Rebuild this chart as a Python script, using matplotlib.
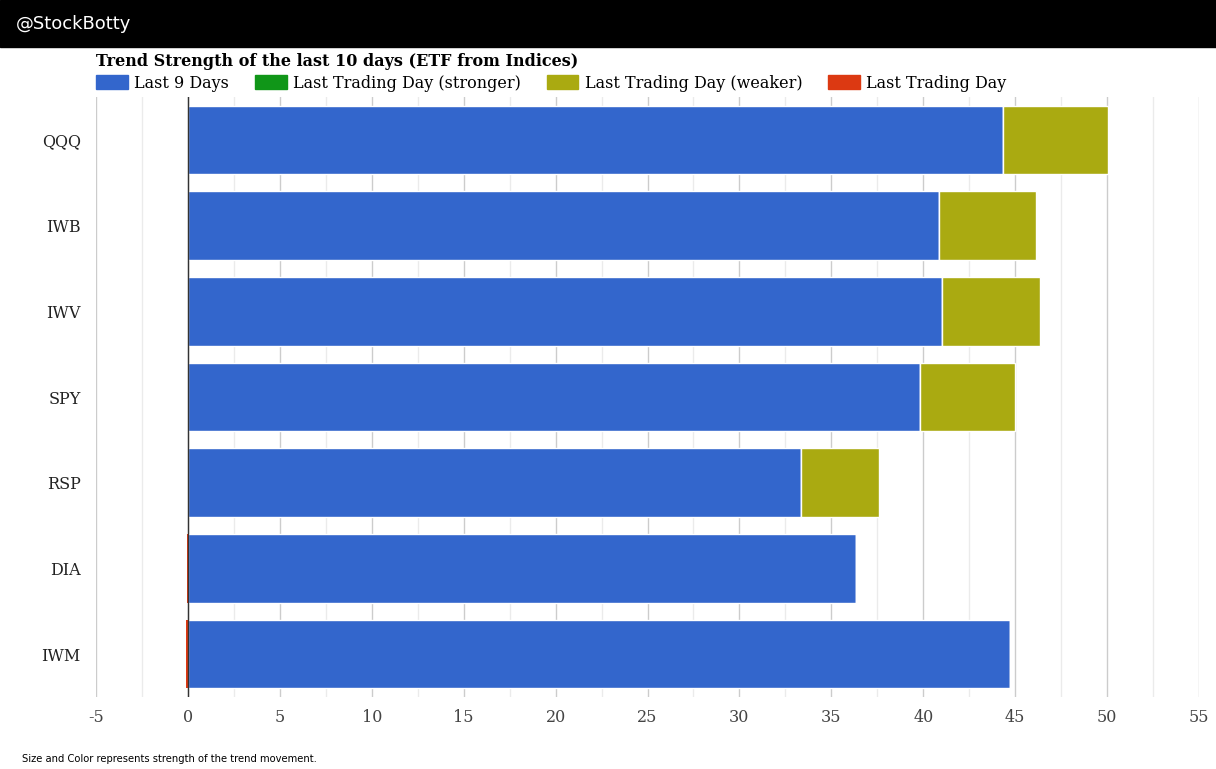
import matplotlib
matplotlib.use('Agg')
import matplotlib.pyplot as plt
from matplotlib.patches import Patch
import numpy as np

plt.rcParams['axes.unicode_minus'] = False

tickers = ['QQQ', 'IWB', 'IWV', 'SPY', 'RSP', 'DIA', 'IWM']
last9 = [44.34, 40.86, 41.02, 39.83, 33.35, 36.34, 44.72]
stronger = [0, 0, 0, 0, 0, 0, 0]
weaker = [5.7, 5.28, 5.33, 5.17, 4.25, 0, 0]
negative = [0, 0, 0, 0, 0, -0.03, -0.08]

c_blue = '#3366CC'
c_green = '#109618'
c_olive = '#AAAA11'
c_red = '#DC3912'

W, H = 1216, 769
fig = plt.figure(figsize=(W/100, H/100), dpi=100)

# black header band
fig.patches.append(plt.Rectangle((0, 1-47/H), 1, 47/H, transform=fig.transFigure,
                                 color='black', zorder=0))
fig.text(16/W, 1-24/H, '@StockBotty', color='white', fontsize=13,
         family='DejaVu Sans', va='center', ha='left')

ax = fig.add_axes([96/W, 72/H, 1103/W, 600/H])
y = np.arange(len(tickers))
l9 = np.array(last9)
st = np.array(stronger)
wk = np.array(weaker)
ng = np.array(negative)

ax.barh(y, l9, height=0.8, color=c_blue, edgecolor='white', linewidth=1, zorder=3)
ax.barh(y, st, left=l9, height=0.8, color=c_green, edgecolor='white', linewidth=1, zorder=3)
ax.barh(y, wk, left=l9+st, height=0.8, color=c_olive, edgecolor='white', linewidth=1, zorder=3)
ax.barh(y, ng, height=0.8, color=c_red, linewidth=0, zorder=3)

ax.set_xlim(-5, 55)
ax.set_ylim(len(tickers)-0.5, -0.5)
ax.set_yticks(y)
ax.set_yticklabels(tickers)
ax.set_xticks(np.arange(-5, 56, 5))
ax.set_xticks(np.arange(-2.5, 55, 5), minor=True)
ax.grid(axis='x', which='major', color='#cccccc', linewidth=1, zorder=0)
ax.grid(axis='x', which='minor', color='#ebebeb', linewidth=1, zorder=0)
ax.axvline(0, color='#333333', linewidth=1, zorder=4)
for s in ax.spines.values():
    s.set_visible(False)
ax.tick_params(axis='both', which='both', length=0, labelsize=11.5)
ax.tick_params(axis='y', pad=11, labelcolor='#222222')
ax.tick_params(axis='x', pad=9, labelcolor='#444444')
for lab in ax.get_xticklabels() + ax.get_yticklabels():
    lab.set_family('DejaVu Serif')

fig.text(96/W, 1-62/H, 'Trend Strength of the last 10 days (ETF from Indices)',
         family='DejaVu Serif', fontweight='bold', fontsize=11.5, va='center', ha='left')

handles = [Patch(color=c_blue, label='Last 9 Days'),
           Patch(color=c_green, label='Last Trading Day (stronger)'),
           Patch(color=c_olive, label='Last Trading Day (weaker)'),
           Patch(color=c_red, label='Last Trading Day')]
fig.legend(handles=handles, loc='center left', bbox_to_anchor=(96/W, 1-83/H), ncol=4,
           frameon=False, prop={'family': 'DejaVu Serif', 'size': 11.5},
           handlelength=2.0, handleheight=1.0, handletextpad=0.4, columnspacing=1.6,
           borderaxespad=0, borderpad=0)

fig.text(22/W, 1-759/H, 'Size and Color represents strength of the trend movement.',
         family='DejaVu Sans', fontsize=7.2, va='center', ha='left')

fig.savefig('out.png', dpi=100)
